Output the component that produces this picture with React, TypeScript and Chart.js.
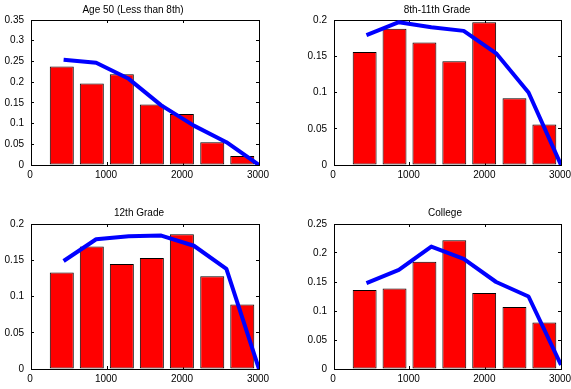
import React, { useEffect, useRef } from "react";
import { Chart, registerables } from "chart.js";

Chart.register(...registerables);

// ---- data ----
const barX = [405, 800, 1195, 1590, 1985, 2385, 2780];
const lineX = [429, 857, 1286, 1714, 2143, 2571, 3000];
const xTicks = [0, 1000, 2000, 3000];

const age50Bars = [0.238, 0.197, 0.219, 0.146, 0.123, 0.055, 0.022];
const age50Line = [0.254, 0.247, 0.208, 0.144, 0.095, 0.055, 0];
const age50YTicks = [0, 0.05, 0.1, 0.15, 0.2, 0.25, 0.3, 0.35];

const grade8Bars = [0.156, 0.188, 0.169, 0.143, 0.197, 0.092, 0.056];
const grade8Line = [0.179, 0.197, 0.19, 0.185, 0.154, 0.1, 0];
const grade8YTicks = [0, 0.05, 0.1, 0.15, 0.2];

const grade12Bars = [0.133, 0.169, 0.145, 0.153, 0.186, 0.128, 0.089];
const grade12Line = [0.149, 0.179, 0.183, 0.184, 0.17, 0.138, 0];
const grade12YTicks = [0, 0.05, 0.1, 0.15, 0.2];

const collegeBars = [0.136, 0.139, 0.185, 0.222, 0.131, 0.107, 0.08];
const collegeLine = [0.148, 0.171, 0.211, 0.19, 0.15, 0.125, 0.007];
const collegeYTicks = [0, 0.05, 0.1, 0.15, 0.2, 0.25];

const FONT_FAMILY = '"Liberation Sans", Arial, Helvetica, sans-serif';

type PanelCfg = {
  title: string;
  bars: number[];
  line: number[];
  yTicks: number[];
  left: number;
  top: number;
  w: number;
  h: number;
  titleX: number;
  titleY: number;
};

const panels: PanelCfg[] = [
  { title: "Age 50 (Less than 8th)", bars: age50Bars, line: age50Line, yTicks: age50YTicks, left: 0, top: 0, w: 279, h: 181, titleX: 133, titleY: 10 },
  { title: "8th-11th Grade", bars: grade8Bars, line: grade8Line, yTicks: grade8YTicks, left: 303, top: 0, w: 278, h: 181, titleX: 134, titleY: 10 },
  { title: "12th Grade", bars: grade12Bars, line: grade12Line, yTicks: grade12YTicks, left: 0, top: 204, w: 279, h: 181, titleX: 139, titleY: 9.5 },
  { title: "College", bars: collegeBars, line: collegeLine, yTicks: collegeYTicks, left: 303, top: 204, w: 278, h: 181, titleX: 142, titleY: 9.5 },
];

const fmt = (v: any) => String(Number((+v).toFixed(3)));

function Panel({ cfg }: { cfg: PanelCfg }) {
  const ref = useRef<HTMLCanvasElement | null>(null);

  useEffect(() => {
    if (!ref.current) return;
    const yMax = cfg.yTicks[cfg.yTicks.length - 1];
    const grid = {
      drawOnChartArea: false,
      drawTicks: true,
      tickLength: -3,
      color: "#000",
      lineWidth: 1,
      offset: false,
    };
    const border = { display: true, color: "#000", width: 1 };
    const font = { family: FONT_FAMILY, size: 10 };

    const titlePlugin = {
      id: "panelTitle",
      afterDraw(chart: any) {
        const ctx = chart.ctx;
        ctx.save();
        ctx.font = `10px ${FONT_FAMILY}`;
        ctx.fillStyle = "#000";
        ctx.textAlign = "center";
        ctx.textBaseline = "middle";
        ctx.fillText(cfg.title, cfg.titleX, cfg.titleY);
        ctx.restore();
      },
    };

    const chart = new Chart(ref.current, {
      type: "bar",
      data: {
        datasets: [
          {
            type: "line",
            data: lineX.map((x, i) => ({ x, y: cfg.line[i] })),
            borderColor: "#0000ff",
            backgroundColor: "#0000ff",
            borderWidth: 4,
            pointRadius: 0,
            pointHoverRadius: 0,
            fill: false,
            tension: 0,
            borderJoinStyle: "round",
            order: 0,
            xAxisID: "x",
            yAxisID: "y",
          } as any,
          {
            type: "bar",
            data: barX.map((x, i) => ({ x, y: cfg.bars[i] })),
            backgroundColor: "#ff0000",
            borderColor: "#000000",
            borderWidth: 1,
            borderSkipped: false,
            categoryPercentage: 1,
            barPercentage: 0.8,
            order: 1,
            xAxisID: "x",
            yAxisID: "y",
          } as any,
        ],
      },
      options: {
        animation: false,
        responsive: false,
        devicePixelRatio: 1,
        events: [],
        layout: { padding: { top: 20, right: 20, left: 0, bottom: 0 } },
        plugins: { legend: { display: false }, tooltip: { enabled: false }, title: { display: false } },
        scales: {
          x: {
            type: "linear",
            position: "bottom",
            min: 0,
            max: 3000,
            offset: false,
            afterBuildTicks: (s: any) => {
              s.ticks = xTicks.map((value) => ({ value }));
            },
            ticks: { padding: 7, labelOffset: -1, color: "#000", font, maxRotation: 0, autoSkip: false, callback: (v: any) => String(v) },
            grid,
            border,
            afterFit: (s: any) => {
              s.height = 15;
            },
          },
          xTop: {
            type: "linear",
            position: "top",
            min: 0,
            max: 3000,
            offset: false,
            afterBuildTicks: (s: any) => {
              s.ticks = xTicks.map((value) => ({ value }));
            },
            ticks: { display: false },
            grid,
            border,
            afterFit: (s: any) => {
              s.height = 0;
            },
          },
          y: {
            type: "linear",
            position: "left",
            min: 0,
            max: yMax,
            afterBuildTicks: (s: any) => {
              s.ticks = cfg.yTicks.map((value) => ({ value }));
            },
            ticks: { padding: 10, color: "#000", font, callback: fmt },
            grid,
            border,
            afterFit: (s: any) => {
              s.width = 31;
            },
          },
          yRight: {
            type: "linear",
            position: "right",
            min: 0,
            max: yMax,
            afterBuildTicks: (s: any) => {
              s.ticks = cfg.yTicks.map((value) => ({ value }));
            },
            ticks: { display: false },
            grid,
            border,
            afterFit: (s: any) => {
              s.width = 0;
            },
          },
        } as any,
      },
      plugins: [titlePlugin],
    });
    return () => chart.destroy();
  }, [cfg]);

  return (
    <canvas
      ref={ref}
      width={cfg.w}
      height={cfg.h}
      style={{ position: "absolute", left: cfg.left, top: cfg.top, width: cfg.w, height: cfg.h }}
    />
  );
}

export default function App() {
  return (
    <div
      style={{
        position: "absolute",
        left: 0,
        top: 0,
        width: 571,
        height: 389,
        overflow: "hidden",
        background: "#fff",
      }}
    >
      {panels.map((p) => (
        <Panel key={p.title} cfg={p} />
      ))}
    </div>
  );
}
